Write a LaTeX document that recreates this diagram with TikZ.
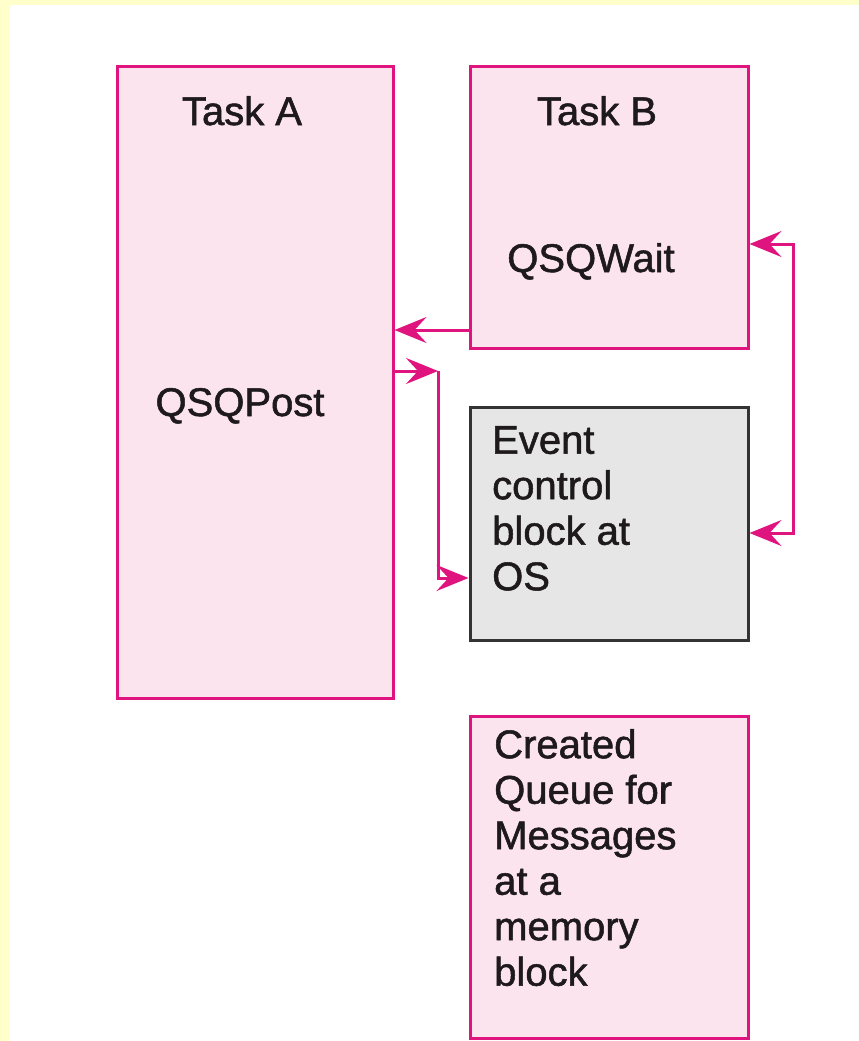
\documentclass[tikz,border=0pt]{standalone}
\usepackage{fontspec}
\setmainfont{Liberation Sans}
\newfontfamily\lblfont[FakeBold=1.3]{Liberation Sans}
\usetikzlibrary{arrows.meta}
\definecolor{bgyellow}{HTML}{FFFFCC}
\definecolor{pinkline}{HTML}{E0147F}
\definecolor{pinkfill}{HTML}{FCE4EE}
\definecolor{grayfill}{HTML}{E6E6E6}
\definecolor{grayline}{HTML}{333333}
\definecolor{txt}{HTML}{1E1A1C}
\tikzset{
  box/.style={draw=pinkline, fill=pinkfill, line width=3pt, inner sep=0pt},
  graybox/.style={draw=grayline, fill=grayfill, line width=3pt, inner sep=0pt},
  lbl/.style={font=\lblfont\fontsize{40}{45.5}\selectfont, text=txt, inner sep=0pt},
  mlbl/.style={lbl, align=left, anchor=north west},
  arr/.style={draw=pinkline, line width=3pt, -{Stealth[length=32pt,width=26pt,inset=12pt]}},
  dblarr/.style={draw=pinkline, line width=3pt, {Stealth[length=32pt,width=26pt,inset=12pt]}-{Stealth[length=32pt,width=26pt,inset=12pt]}}
}
\begin{document}
\begin{tikzpicture}[x=1pt,y=-1pt]
\useasboundingbox (0,0) rectangle (859,1041);
\fill[bgyellow] (0,0) rectangle (859,1041);
\fill[white] (10,5) rectangle (859,1041);

\node[box, minimum width=276pt, minimum height=631pt] (taskA) at (255,382.5) {};
\node[box, minimum width=278pt, minimum height=281pt] (taskB) at (609,207.5) {};
\node[graybox, minimum width=278pt, minimum height=233pt] (ecb) at (609,523.5) {};
\node[box, minimum width=278pt, minimum height=322pt] (queue) at (609,877) {};

\node[lbl, anchor=base] (tA) at (242,125) {Task A};
\node[lbl, anchor=base] (tB) at (597,125) {Task B};
\node[lbl, anchor=base] (wait) at (591,272) {QSQWait};
\node[lbl, anchor=base] (post) at (240,416) {QSQPost};
\node[mlbl] (ecbtext) at (492,426) {Event\\control\\block at\\OS};
\node[mlbl] (qtext) at (494,729) {Created\\Queue for\\Messages\\at a\\memory\\block};

\coordinate (y330) at (0,330);
\coordinate (y371) at (0,371);
\coordinate (c1) at (438,371);
\coordinate (c2) at (438,578);
\coordinate (y243) at (0,244);
\coordinate (c3) at (793,244);
\coordinate (c4) at (793,533);

\draw[arr] (taskB.west |- y330) -- (taskA.east |- y330);
\draw[arr] (taskA.east |- y371) -- (c1);
\draw[arr] (c1) -- (c2) -- (ecb.west |- c2);
\draw[dblarr] (taskB.east |- y243) -- (c3) -- (c4) -- (ecb.east |- c4);
\end{tikzpicture}
\end{document}
